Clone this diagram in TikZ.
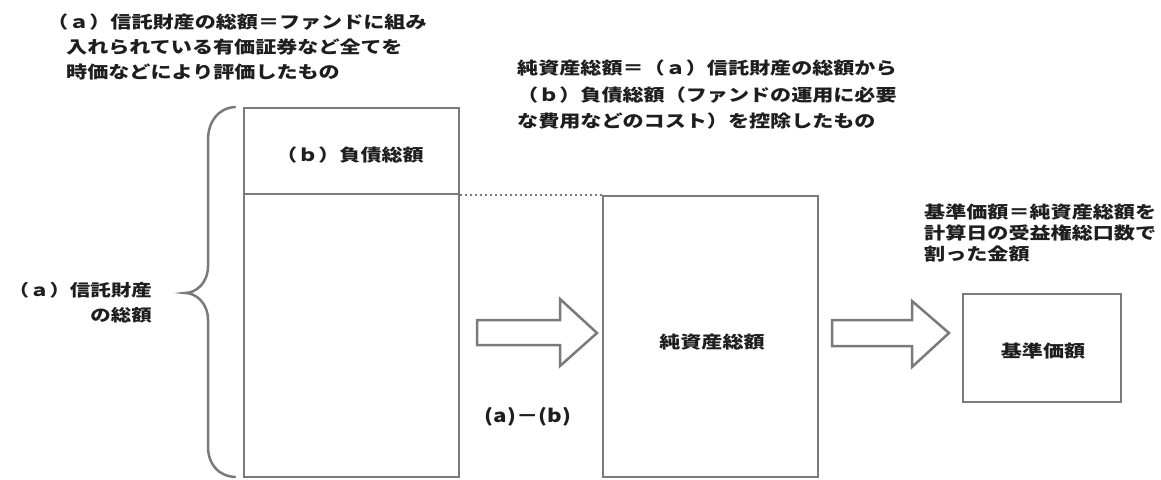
\documentclass[tikz,border=0pt]{standalone}
\usepackage{fontspec}
\newfontfamily\jp[FakeStretch=1.24]{Noto Sans CJK JP}
\usetikzlibrary{calc}
\definecolor{linegray}{HTML}{7A7A7A}
\definecolor{ink}{HTML}{1E1E1E}
\tikzset{
  boxshape/.style={draw=linegray, line width=2.5pt, minimum width=#1, inner sep=0pt},
  jtext/.style={text=ink, inner sep=0pt, font=\jp\bfseries\fontsize{17}{25}\selectfont},
  blockarrow/.style={draw=linegray, line width=2.5pt, line join=miter, fill=white},
  bracepath/.style={draw=linegray, line width=2.5pt, line cap=round}
}
\begin{document}
\begin{tikzpicture}[x=1pt,y=-1pt]
\useasboundingbox[fill=white] (0,0) rectangle (1161,479);

% boxes
\node[boxshape=215pt, minimum height=369pt] (lbox) at (351.5,292.5) {};
\node[boxshape=215pt, minimum height=281pt] (mbox) at (710.5,336.5) {};
\node[boxshape=158pt, minimum height=108pt] (rbox) at (1042,348) {};

% divider in left box
\draw[draw=linegray, line width=2.5pt] ([yshift=-87pt]lbox.north west) -- ([yshift=-87pt]lbox.north east);
% dotted link
\draw[draw=linegray, line width=2pt, dash pattern=on 2pt off 3pt] ([yshift=-88pt]lbox.north east) -- (mbox.north west);

% labels in boxes
\node[jtext] (blabel) at (350,155) {（ｂ）負債総額};
\node[jtext] (mlabel) at (712,342) {純資産総額};
\node[jtext] (rlabel) at (1043,351) {基準価額};

% block arrows
\draw[blockarrow] (477,320) -- (560,320) -- (560,299) -- (597,333) -- (560,366) -- (560,345) -- (477,345) -- cycle;
\draw[blockarrow] (832,320) -- (912,320) -- (912,301) -- (949,333) -- (912,367) -- (912,346) -- (832,346) -- cycle;

\node[jtext, font=\jp\bfseries\fontsize{18}{20}\selectfont] (ab) at (528,417) {(a)－(b)};

% brace
\draw[bracepath] (235,107) .. controls (218,108) and (208,122) .. (208,140)
  -- (208,266) .. controls (208,283) and (196,293) .. (185,293)
  .. controls (196,293) and (208,303) .. (208,320)
  -- (208,446) .. controls (208,464) and (218,476) .. (235,477);

% texts
\node[jtext, anchor=north west, align=left] (toptext) at (47,14)
  {（ａ）信託財産の総額＝ファンドに組み\\\hspace*{19pt}入れられている有価証券など全てを\\\hspace*{19pt}時価などにより評価したもの};
\node[jtext, anchor=north west, align=left, font=\jp\bfseries\fontsize{17}{26.5}\selectfont] (midtext) at (517,60)
  {純資産総額＝（ａ）信託財産の総額から\\（ｂ）負債総額（ファンドの運用に必要\\な費用などのコスト）を控除したもの};
\node[jtext, anchor=north west, align=left, font=\jp\bfseries\fontsize{17}{21}\selectfont] (righttext) at (924,204)
  {基準価額＝純資産総額を\\計算日の受益権総口数で\\割った金額};
\node[jtext, anchor=north east, align=right, font=\jp\bfseries\fontsize{16.5}{25}\selectfont] (leftlabel) at (152,282)
  {（ａ）信託財産\\の総額};
\end{tikzpicture}
\end{document}
